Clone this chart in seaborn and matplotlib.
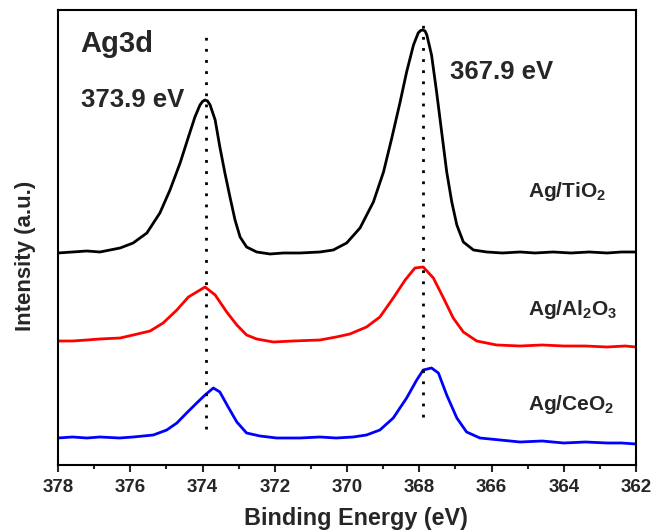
import matplotlib
matplotlib.use("Agg")
import matplotlib.pyplot as plt
import seaborn as sns
import pandas as pd

# ---- data (binding energy in eV, intensity in arbitrary units) ----
ti_be = [378.0, 377.6, 377.2, 376.84, 376.28, 375.92, 375.54, 375.18, 374.90, 374.62, 374.39,
         374.21, 374.07, 374.0, 373.93, 373.86, 373.79, 373.65, 373.52, 373.38, 373.24, 373.10,
         372.96, 372.78, 372.50, 372.13, 371.76, 371.30, 370.75, 370.38, 370.01, 369.64, 369.27,
         368.99, 368.76, 368.53, 368.35, 368.16, 368.03, 367.96, 367.90, 367.84, 367.79, 367.66,
         367.52, 367.38, 367.24, 367.10, 366.96, 366.78, 366.50, 366.13, 365.7, 365.21, 364.8,
         364.3, 363.8, 363.3, 362.8, 362.4, 362.0]
ti_int = [212, 213, 214, 213, 217, 222, 232, 252, 275, 302, 328,
          348, 360, 363.5, 365, 364, 360, 345, 318, 292, 268, 245,
          228, 218, 213, 211, 212, 212, 213, 215, 222, 237, 263,
          293, 327, 363, 393, 420, 432, 434.5, 435, 434, 430, 410,
          373, 333, 293, 263, 240, 223, 215, 213, 212, 213, 212,
          213, 212, 213, 212, 213, 213]

al_be = [378.0, 377.6, 377.2, 376.84, 376.28, 375.92, 375.45, 375.09, 374.71, 374.39, 374.16,
         373.93, 373.65, 373.33, 373.05, 372.78, 372.50, 372.04, 371.49, 370.75, 370.3, 369.92,
         369.46, 369.09, 368.72, 368.39, 368.12, 367.89, 367.61, 367.33, 367.06, 366.78, 366.41,
         365.86, 365.21, 364.6, 364.0, 363.4, 362.8, 362.3, 362.0]
al_int = [124, 124, 125, 126, 127, 130, 134, 142, 155, 168, 173,
          178, 170, 153, 140, 130, 126, 123, 124, 125, 128, 131,
          138, 148, 167, 185, 197, 198, 187, 167, 147, 133, 124,
          120, 119, 120, 119, 119, 118, 119, 118]

ce_be = [378.0, 377.6, 377.2, 376.84, 376.3, 375.92, 375.36, 374.99, 374.71, 374.44, 374.16,
         373.93, 373.70, 373.52, 373.29, 373.05, 372.78, 372.41, 371.95, 371.3, 370.75, 370.3,
         369.83, 369.46, 369.09, 368.72, 368.35, 368.07, 367.89, 367.66, 367.47, 367.24, 366.96,
         366.69, 366.32, 365.76, 365.21, 364.6, 364.0, 363.4, 362.8, 362.4, 362.0]
ce_int = [27, 28, 27, 28, 27, 28, 30, 35, 42, 52, 62,
          70, 77, 73, 58, 43, 32, 29, 27, 27, 28, 27,
          28, 30, 35, 47, 67, 85, 95, 97, 92, 70, 47,
          33, 27, 25, 23, 24, 22, 23, 22, 22, 21]

samples = ["Ag/TiO2", "Ag/Al2O3", "Ag/CeO2"]
sample_labels = [r"Ag/TiO$_\mathregular{2}$", r"Ag/Al$_\mathregular{2}$O$_\mathregular{3}$",
                 r"Ag/CeO$_\mathregular{2}$"]
colors = ["#000000", "#ff0000", "#0000ff"]
peak_positions = [373.9, 367.9]
peak_labels = ["373.9 eV", "367.9 eV"]
x_ticks = [378, 376, 374, 372, 370, 368, 366, 364, 362]
x_minor = [377, 375, 373, 371, 369, 367, 365, 363]

rows = []
for name, be, inten in zip(samples, [ti_be, al_be, ce_be], [ti_int, al_int, ce_int]):
    for b, v in zip(be, inten):
        rows.append({"be": b, "intensity": v, "sample": name})
df = pd.DataFrame(rows)

sns.set_theme(style="ticks")
plt.rcParams["font.family"] = ["Liberation Sans", "DejaVu Sans"]
plt.rcParams["font.weight"] = "bold"
plt.rcParams["mathtext.fontset"] = "custom"
plt.rcParams["mathtext.rm"] = "Liberation Sans:bold"
plt.rcParams["mathtext.bf"] = "Liberation Sans:bold"

fig = plt.figure(figsize=(6.54, 5.31), dpi=100)
ax = fig.add_axes([0.0887, 0.1243, 0.8838, 0.8569])

sns.lineplot(data=df, x="be", y="intensity", hue="sample", palette=dict(zip(samples, colors)),
             sort=False, estimator=None, legend=False, linewidth=2.0, ax=ax)
for ln in ax.get_lines():
    ln.set_solid_joinstyle("round")

# dotted guide lines
ax.vlines(peak_positions[0], 36, 435, colors="black", linestyles=(0, (1, 3)), linewidth=2)
ax.vlines(peak_positions[1], 48, 447, colors="black", linestyles=(0, (1, 3)), linewidth=2)

ax.set_xlim(378, 362)
ax.set_ylim(0, 455)
ax.set_xticks(x_ticks)
ax.set_xticks(x_minor, minor=True)
ax.set_yticks([])
ax.tick_params(axis="x", which="major", direction="out", length=5, width=1.5, labelsize=13.5, pad=5)
ax.tick_params(axis="x", which="minor", direction="out", length=3, width=1.5)
for lab in ax.get_xticklabels():
    lab.set_fontweight("bold")
for s in ax.spines.values():
    s.set_linewidth(1.5)
    s.set_color("black")

ax.set_xlabel("Binding Energy (eV)", fontsize=16.8, fontweight="bold")
ax.xaxis.set_label_coords(0.5156, -0.092)
ax.set_ylabel("Intensity (a.u.)", fontsize=16, fontweight="bold")
ax.yaxis.set_label_coords(-0.038, 0.459)

ax.text(377.39, 421, "Ag3d", fontsize=21, fontweight="bold", va="center", ha="left")
ax.text(377.36, 365, peak_labels[0], fontsize=18.5, fontweight="bold", va="center", ha="left")
ax.text(367.14, 393, peak_labels[1], fontsize=18.5, fontweight="bold", va="center", ha="left")

label_y = [273, 155, 60]
for lab, y in zip(sample_labels, label_y):
    ax.text(364.98, y, lab, fontsize=15, fontweight="bold", va="center", ha="left")

fig.savefig("out.png", dpi=100)
